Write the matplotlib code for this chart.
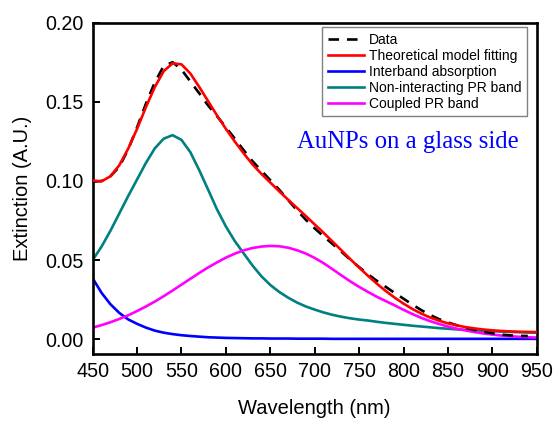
import numpy as np
import matplotlib
matplotlib.use("Agg")
import matplotlib.pyplot as plt

plt.rcParams['font.family'] = ['Liberation Sans', 'DejaVu Sans']

# Wavelength grid (nm)
wavelength = np.arange(450, 951, 10)

# Measured extinction spectrum
data_wl = np.arange(450, 941, 10)
data_ext = [0.0995, 0.1000, 0.1030, 0.1090, 0.1200, 0.1340, 0.1490, 0.1625, 0.1728, 0.1752,
            0.1705, 0.1630, 0.1555, 0.1478, 0.1410, 0.1340, 0.1268, 0.1195, 0.1125, 0.1065,
            0.1005, 0.0945, 0.0880, 0.0815, 0.0755, 0.0700, 0.0650, 0.0602, 0.0553, 0.0502,
            0.0455, 0.0410, 0.0368, 0.0330, 0.0292, 0.0255, 0.0218, 0.0183, 0.0152, 0.0126,
            0.0105, 0.0087, 0.0071, 0.0058, 0.0046, 0.0036, 0.0028, 0.0023, 0.0020, 0.0019]

# Theoretical model fit
model_fit = [0.1003, 0.0998, 0.1030, 0.1100, 0.1205, 0.1330, 0.1468, 0.1595, 0.1695, 0.1745,
             0.1738, 0.1680, 0.1595, 0.1505, 0.1415, 0.1330, 0.1250, 0.1175, 0.1105, 0.1045,
             0.0990, 0.0935, 0.0882, 0.0830, 0.0778, 0.0725, 0.0672, 0.0617, 0.0562, 0.0506,
             0.0452, 0.0400, 0.0350, 0.0304, 0.0262, 0.0224, 0.0190, 0.0161, 0.0136, 0.0116,
             0.0099, 0.0086, 0.0075, 0.0067, 0.0060, 0.0055, 0.0051, 0.0048, 0.0046, 0.0045,
             0.0044]

# Interband absorption contribution
interband = [0.0384, 0.0292, 0.0220, 0.0165, 0.0124, 0.0096, 0.0072, 0.0053, 0.0040, 0.0031,
             0.0024, 0.0019, 0.0015, 0.0011, 0.0009, 0.0007, 0.0006, 0.0005, 0.0004, 0.0004,
             0.0003, 0.0003, 0.0003, 0.0002, 0.0002, 0.0002, 0.0002, 0.0001, 0.0001, 0.0001,
             0.0001, 0.0001, 0.0001, 0.0001, 0.0001, 0.0001, 0.0001, 0.0001, 0.0001, 0.0001,
             0.0001, 0.0001, 0.0001, 0.0001, 0.0001, 0.0001, 0.0001, 0.0001, 0.0001, 0.0001,
             0.0001]

# Non-interacting plasmon resonance band
non_interacting = [0.0500, 0.0585, 0.0685, 0.0795, 0.0905, 0.1010, 0.1115, 0.1207, 0.1268, 0.1290,
                   0.1260, 0.1182, 0.1068, 0.0945, 0.0820, 0.0712, 0.0620, 0.0542, 0.0465, 0.0397,
                   0.0342, 0.0298, 0.0262, 0.0231, 0.0206, 0.0186, 0.0168, 0.0153, 0.0141, 0.0131,
                   0.0123, 0.0117, 0.0109, 0.0102, 0.0096, 0.0090, 0.0084, 0.0079, 0.0074, 0.0069,
                   0.0065, 0.0061, 0.0058, 0.0055, 0.0052, 0.0049, 0.0047, 0.0045, 0.0043, 0.0041,
                   0.0040]

# Coupled plasmon resonance band
coupled = [0.0072, 0.0088, 0.0106, 0.0127, 0.0150, 0.0177, 0.0206, 0.0237, 0.0271, 0.0307,
           0.0344, 0.0381, 0.0418, 0.0453, 0.0485, 0.0515, 0.0540, 0.0561, 0.0576, 0.0585,
           0.0589, 0.0587, 0.0578, 0.0562, 0.0541, 0.0513, 0.0480, 0.0442, 0.0403, 0.0365,
           0.0330, 0.0298, 0.0267, 0.0240, 0.0213, 0.0185, 0.0158, 0.0134, 0.0113, 0.0095,
           0.0079, 0.0065, 0.0054, 0.0044, 0.0035, 0.0028, 0.0022, 0.0018, 0.0014, 0.0011,
           0.0009]

x_ticks = [450, 500, 550, 600, 650, 700, 750, 800, 850, 900, 950]
y_ticks = [0.00, 0.05, 0.10, 0.15, 0.20]

fig = plt.figure(figsize=(5.54, 4.21), dpi=100)
ax = fig.add_axes([0.1673, 0.1591, 0.8015, 0.7863])

ax.plot(data_wl, data_ext, color='black', lw=1.9, linestyle=(0, (4, 3)), label='Data', zorder=5)
ax.plot(wavelength, model_fit, color='#ff0000', lw=1.9, label='Theoretical model fitting', zorder=6)
ax.plot(wavelength, interband, color='#0000ff', lw=1.9, label='Interband absorption')
ax.plot(wavelength, non_interacting, color='#008080', lw=1.9, label='Non-interacting PR band')
ax.plot(wavelength, coupled, color='#ff00ff', lw=1.9, label='Coupled PR band')

ax.set_xlim(450, 950)
ax.set_ylim(-0.0095, 0.2)
ax.set_xticks(x_ticks)
ax.set_yticks(y_ticks)
ax.set_yticklabels([f"{v:.2f}" for v in y_ticks])

for sp in ax.spines.values():
    sp.set_linewidth(1.9)
ax.tick_params(axis='both', direction='in', length=5.3, width=1.4, labelsize=14.2)
ax.tick_params(axis='x', pad=5.5)
ax.tick_params(axis='y', pad=6.5)

ax.set_xlabel('Wavelength (nm)', fontsize=14.5)
ax.set_ylabel('Extinction (A.U.)', fontsize=14.5)
ax.xaxis.set_label_coords(0.5, -0.136)
ax.yaxis.set_label_coords(-0.137, 0.5)

leg = ax.legend(loc='upper right', bbox_to_anchor=(0.978, 0.988), borderaxespad=0,
                fontsize=10, frameon=True, fancybox=False, edgecolor='#808080',
                framealpha=1, handlelength=2.6, handletextpad=0.35, labelspacing=0.15,
                borderpad=0.4)
leg.get_frame().set_linewidth(1.0)

ax.text(0.710, 0.641, 'AuNPs on a glass side', transform=ax.transAxes, ha='center', va='center',
        color='#0000ff', fontsize=17.8, family=['Liberation Serif', 'DejaVu Serif'])

fig.savefig('out.png', dpi=100)
